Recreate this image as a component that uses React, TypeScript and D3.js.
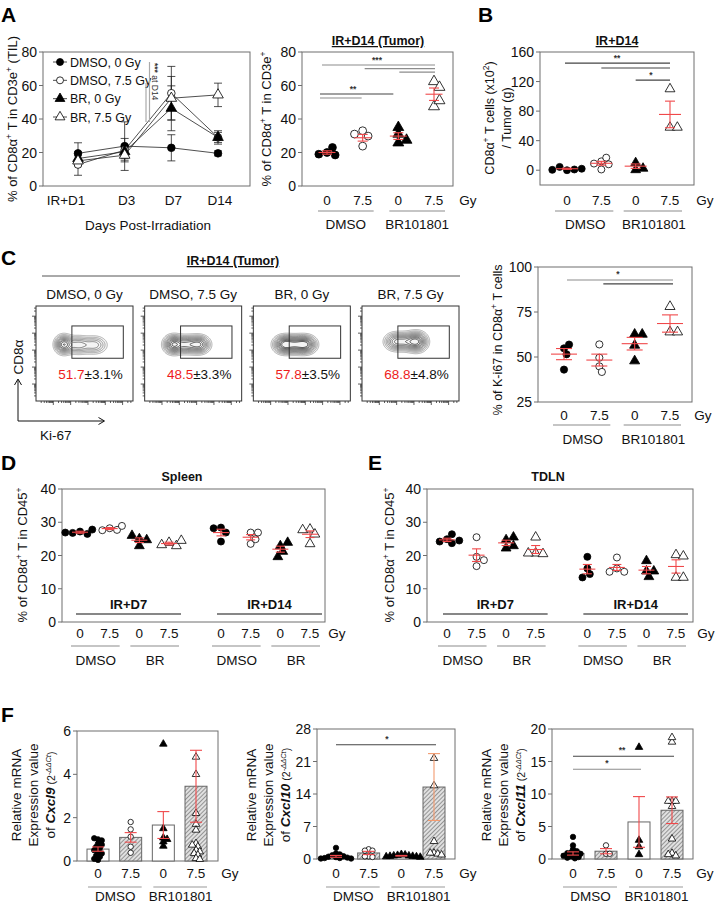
import React from "react";
import * as d3 from "d3";

const FONT = "'Liberation Sans', Arial, Helvetica, sans-serif";
const FRAME = "#6e6e6e";
const RED = "#f0484a";
const ORANGE = "#f39a6e";
const GREY = "#8c8c8c";
const DARK = "#444";
const TICK_FS = 14;
const XL_FS = 13.5;

// ---------- Panel A (left): time course ----------
const daysA = ["IR+D1", "D3", "D7", "D14"];
const tilDmso0Mean = [19.5, 23.8, 22.8, 19.5];
const tilDmso0Sem = [6.3, 14.5, 7.8, 1.5];
const tilDmso75Mean = [12.8, 21.4, 55.4, 29.0];
const tilDmso75Sem = [6.4, 7.0, 16.0, 3.0];
const tilBr0Mean = [16.4, 20.5, 46.4, 29.0];
const tilBr0Sem = [4.0, 4.0, 13.4, 4.0];
const tilBr75Mean = [15.0, 18.4, 52.4, 54.4];
const tilBr75Sem = [3.0, 3.0, 13.0, 7.0];
const legendA = ["DMSO, 0 Gy", "DMSO, 7.5 Gy", "BR, 0 Gy", "BR, 7.5 Gy"];

// ---------- common categories ----------
const gyLabels = ["0", "7.5", "0", "7.5"];
const drugLabels = ["DMSO", "BR101801"];

// ---------- Panel A (right) ----------
const tumorD14Pts = [
  [20, 18.5, 19, 23],
  [23.8, 33, 29.8, 31],
  [31, 35, 25.8, 27.4],
  [62.4, 59, 47.4, 51],
];
const tumorD14Mean = [20, 28.8, 29.8, 54.8];
const tumorD14Sem = [1.0, 2.0, 2.0, 3.7];

// ---------- Panel B ----------
const cellsD14Pts = [
  [0, 1, 4.5, 2, 0.5],
  [12, 17, 1, 8, 9],
  [10, 0.5, 2.5],
  [110, 58, 58],
];
const cellsD14Mean = [2, 9.4, 5.5, 75.5];
const cellsD14Sem = [0.8, 2.6, 3, 18];

// ---------- Panel C ----------
const flowLabels = ["DMSO, 0 Gy", "DMSO, 7.5 Gy", "BR, 0 Gy", "BR, 7.5 Gy"];
const ki67Pct = ["51.7", "48.5", "57.8", "68.8"];
const ki67PctSem = ["3.1", "3.3", "3.5", "4.8"];
// contour populations per plot: [relX, relY, sdX, sdY, weight]
const flowPops = [
  [[0.28, 0.40, 5, 5.2, 1.0], [0.43, 0.405, 7, 5, 0.6], [0.6, 0.405, 7, 5, 0.5]],
  [[0.29, 0.40, 5.5, 5.2, 1.0], [0.43, 0.40, 7, 5, 0.75], [0.56, 0.40, 6, 5, 0.85]],
  [[0.31, 0.40, 6, 5, 1.0], [0.43, 0.40, 7, 5, 0.85], [0.54, 0.40, 6, 5, 0.9]],
  [[0.33, 0.37, 6, 5, 0.6], [0.44, 0.37, 7, 5, 0.65], [0.56, 0.37, 6, 5.5, 1.0]],
];
const ki67Pts = [
  [54.8, 51.5, 56.9, 43],
  [57, 49.6, 44.8, 41.7],
  [62.6, 62.6, 56.5, 47.8],
  [78, 63.9, 63.9],
];
const ki67Mean = [51.6, 48.3, 57.4, 68.6];
const ki67Sem = [3.1, 3.3, 3.5, 4.8];

// ---------- Panels D / E ----------
const gy8 = ["0", "7.5", "0", "7.5", "0", "7.5", "0", "7.5"];
const drug4 = ["DMSO", "BR", "DMSO", "BR"];
const timeLabels = ["IR+D7", "IR+D14"];
const slotsDE = [0, 1, 2, 3, 4.75, 5.75, 6.75, 7.75];
const spleenPts = [
  [27.2, 26.5, 26.8, 27.8, 26.9],
  [28.2, 27.7, 27.6, 28.9],
  [25, 22.9, 24.7, 26],
  [23.9, 22.9, 23.2, 24.5],
  [28.4, 24.2, 26.9, 28.2],
  [26.9, 23.5, 24.9, 26.9],
  [22.9, 23.9, 21.2, 19.6],
  [27.9, 23.5, 26.4, 27.7],
];
const spleenMean = [27, 28.1, 24.6, 23.6, 26.9, 25.5, 21.9, 26.4];
const spleenSem = [0.3, 0.3, 0.7, 0.4, 1.0, 0.8, 0.9, 1.0];
const tdlnPts = [
  [24.9, 23.7, 24.2, 26.4, 24.5],
  [19.6, 25.5, 18.6, 16.8],
  [24.7, 25.5, 22.2, 22.9],
  [25.5, 20.7, 20.5, 20.7],
  [19.6, 16.1, 14.4, 13.4],
  [19.4, 16.1, 15.1, 15.1],
  [18.4, 15.3, 15.3, 13.6],
  [20.2, 19.8, 13.4, 13.4],
];
const tdlnMean = [24.7, 20.1, 23.8, 21.8, 15.9, 16.4, 15.6, 16.7];
const tdlnSem = [0.5, 1.9, 0.8, 1.2, 1.4, 0.9, 1.1, 2.0];

// ---------- Panel F ----------
const cxcl9Pts = [
  [1.0, 0.95, 1.05, 0.8, 0.75, 0.65, 0.6, 0.5, 0.4, 0.35, 0.25, 0.2, 0.1, 0.05],
  [1.8, 1.46, 1.12, 0.66, 0.38],
  [5.4, 1.5, 0.89, 0.69, 1.0, 1.07],
  [4.8, 4.0, 2.2, 1.7, 1.43, 0.81, 0.66, 0.5, 0.43, 0.35, 0.28, 0.12, 0.08, 0.74],
];
const cxcl9Mean = [0.55, 1.09, 1.66, 3.45];
const cxcl9Sem = [0.1, 0.22, 0.62, 1.66];
const cxcl10Pts = [
  [2.4, 1.2, 1.0, 0.8, 0.6, 0.5, 0.4, 0.3, 0.2, 0.2, 0.1, 0.1],
  [2.1, 1.8, 1.8, 0.57, 0.43, 0.57],
  [1.0, 0.9, 0.8, 0.7, 0.7, 0.6, 0.6, 0.5, 0.5, 0.4],
  [21.7, 15.8, 3.8, 1.3, 1.1, 1.3, 0.9],
];
const cxcl10Mean = [0.57, 1.3, 0.7, 15.5];
const cxcl10Sem = [0.2, 0.35, 0.07, 7.2];
const cxcl11Pts = [
  [3.4, 2.1, 1.5, 1.2, 1.0, 0.9, 0.8, 0.7, 0.5, 0.4, 0.3, 0.2, 0.1],
  [2.1, 0.8, 0.8],
  [17.2, 2.9, 1.9, 0.7],
  [18.0, 18.7, 8.9, 8.9, 8.9, 8.1, 3.1, 0.9, 0.5, 0.7],
];
const cxcl11Mean = [0.85, 1.2, 5.7, 7.5];
const cxcl11Sem = [0.25, 0.4, 3.9, 2.05];

type Shape = "cf" | "co" | "tf" | "to";
const SH4: Shape[] = ["cf", "co", "tf", "to"];
const SH8: Shape[] = ["cf", "co", "tf", "to", "cf", "co", "tf", "to"];

function Marker({ shape, x, y, r }: { shape: Shape; x: number; y: number; r: number }) {
  const filled = shape === "cf" || shape === "tf";
  const fill = filled ? "#000" : "#fff";
  if (shape[0] === "c")
    return <circle cx={x} cy={y} r={r} fill={fill} stroke="#000" strokeWidth={0.8} />;
  const d = d3.symbol().type(d3.symbolTriangle).size(r * r * 3.4)() as string;
  return (
    <path d={d} transform={`translate(${x},${y})`} fill={fill} stroke="#000" strokeWidth={0.8} strokeLinejoin="round" />
  );
}

function swarm(vals: number[], y: (v: number) => number, r: number, k0: number): number[] {
  const placed: { x: number; y: number }[] = [];
  const dx = new Array(vals.length).fill(0);
  const minD = r * k0;
  vals.forEach((v, i) => {
    const py = y(v);
    for (let k = 0; k < 60; k++) {
      const off = (k % 2 === 1 ? 1 : -1) * Math.ceil(k / 2) * r * 0.7;
      if (placed.every((p) => Math.hypot(p.x - off, p.y - py) >= minD)) {
        dx[i] = off;
        placed.push({ x: off, y: py });
        break;
      }
    }
  });
  return dx;
}

function Dots({ xs, y, groups, r, shapes, spread = 1.7 }: any) {
  return (
    <g>
      {groups.map((vals: number[], gi: number) => {
        const dx = swarm(vals, y, r, spread);
        return (
          <g key={gi}>
            {vals.map((v, j) => (
              <Marker key={j} shape={shapes[gi]} x={xs[gi] + dx[j]} y={y(v)} r={r} />
            ))}
          </g>
        );
      })}
    </g>
  );
}

function MeanSem({ x, y, mean, sem, meanW, capW, color = RED, sw = 1.1 }: any) {
  return (
    <g stroke={color} strokeWidth={sw}>
      {meanW > 0 && <line x1={x - meanW / 2} x2={x + meanW / 2} y1={y(mean)} y2={y(mean)} />}
      <line x1={x} x2={x} y1={y(mean - sem)} y2={y(mean + sem)} />
      <line x1={x - capW / 2} x2={x + capW / 2} y1={y(mean + sem)} y2={y(mean + sem)} />
      <line x1={x - capW / 2} x2={x + capW / 2} y1={y(mean - sem)} y2={y(mean - sem)} />
    </g>
  );
}

function Frame({ x0, x1, y0, y1 }: any) {
  return <rect x={x0} y={y0} width={x1 - x0} height={y1 - y0} fill="none" stroke={FRAME} strokeWidth={1} />;
}

function YAxis({ y, ticks, x, fs = TICK_FS }: any) {
  return (
    <g>
      {ticks.map((t: number) => (
        <g key={t}>
          <line x1={x - 4} x2={x} y1={y(t)} y2={y(t)} stroke={FRAME} />
          <text x={x - 6} y={y(t)} dy="0.36em" textAnchor="end" fontSize={fs} fill="#111">
            {t}
          </text>
        </g>
      ))}
    </g>
  );
}

function XLabels({ xs, labels, yb, gyX, fs = XL_FS }: any) {
  return (
    <g fontSize={fs} fill="#111" textAnchor="middle">
      {labels.map((l: string, i: number) => (
        <text key={i} x={xs[i]} y={yb}>
          {l}
        </text>
      ))}
      {gyX != null && (
        <text x={gyX} y={yb}>
          Gy
        </text>
      )}
    </g>
  );
}

function GroupLines({ xs, pairs, labels, yl, yb, l = 9, r = 10, color = GREY, fs = XL_FS }: any) {
  return (
    <g>
      {pairs.map((p: number[], i: number) => (
        <g key={i}>
          <line x1={xs[p[0]] - l} x2={xs[p[1]] + r} y1={yl} y2={yl} stroke={color} strokeWidth={1.2} />
          <text x={(xs[p[0]] + xs[p[1]]) / 2 + 1} y={yb} textAnchor="middle" fontSize={fs} fill="#111">
            {labels[i]}
          </text>
        </g>
      ))}
    </g>
  );
}

function SigLine({ x1, x2, y, color }: any) {
  return <line x1={x1} x2={x2} y1={y} y2={y} stroke={color} strokeWidth={1.1} />;
}

function Stars({ x, y, s }: any) {
  return (
    <text x={x} y={y} textAnchor="middle" fontSize={8.5} fill="#333" fontWeight="bold">
      {s}
    </text>
  );
}

function Sup({ t }: { t: string }) {
  return (
    <tspan fontSize={8.5} dy={-5}>
      {t}
    </tspan>
  );
}

// ---------------- Panel A left ----------------
function PanelALeft() {
  const y = d3.scaleLinear().domain([0, 80]).range([186, 52]);
  const x = d3.scalePoint<string>().domain(daysA).range([78, 218]);
  const xs = daysA.map((d) => x(d) as number);
  const series = [
    { m: tilDmso0Mean, s: tilDmso0Sem, sh: "cf" as Shape },
    { m: tilDmso75Mean, s: tilDmso75Sem, sh: "co" as Shape },
    { m: tilBr0Mean, s: tilBr0Sem, sh: "tf" as Shape },
    { m: tilBr75Mean, s: tilBr75Sem, sh: "to" as Shape },
  ];
  const line = d3
    .line<number>()
    .x((_, i) => xs[i])
    .y((v) => y(v));
  const ly = d3.scalePoint<number>().domain([0, 1, 2, 3]).range([62, 117]);
  return (
    <g>
      <Frame x0={43} x1={250} y0={52} y1={186} />
      <YAxis y={y} ticks={[0, 20, 40, 60, 80]} x={43} />
      {series.map((s, i) => (
        <path key={i} d={line(s.m) as string} fill="none" stroke="#222" strokeWidth={0.8} />
      ))}
      {series.map((s, i) => (
        <g key={i}>
          {s.m.map((v, j) => (
            <MeanSem key={j} x={xs[j]} y={y} mean={v} sem={s.s[j]} meanW={0} capW={8} color="#222" sw={0.8} />
          ))}
        </g>
      ))}
      {series.map((s, i) => (
        <g key={i}>
          {s.m.map((v, j) => (
            <Marker key={j} shape={s.sh} x={xs[j]} y={y(v)} r={3.8} />
          ))}
        </g>
      ))}
      {/* legend */}
      {legendA.map((l, i) => (
        <g key={l}>
          <line x1={53} x2={67} y1={ly(i)} y2={ly(i)} stroke="#222" strokeWidth={0.8} />
          <Marker shape={series[i].sh} x={60} y={ly(i) as number} r={3.5} />
          <text x={70} y={ly(i)} dy="0.36em" fontSize={12.5} fill="#111">
            {l}
          </text>
        </g>
      ))}
      {/* significance */}
      <line x1={146} x2={146} y1={83} y2={122} stroke="#aaa" strokeWidth={1.2} />
      <line x1={149.5} x2={149.5} y1={62} y2={122} stroke="#aaa" strokeWidth={1.2} />
      <text transform="translate(151.5,63) rotate(90)" fontSize={8.5} fill="#333">
        <tspan fontWeight="bold">***</tspan> at D14
      </text>
      <g fontSize={XL_FS} fill="#111" textAnchor="middle">
        {daysA.map((d, i) => (
          <text key={d} x={xs[i] + (i === 0 ? -12 : 2)} y={205}>
            {d}
          </text>
        ))}
        <text x={148} y={230}>
          Days Post-Irradiation
        </text>
      </g>
      <text transform="translate(17,119) rotate(-90)" textAnchor="middle" fontSize={13} fill="#111">
        % of CD8α<Sup t="+" />
        <tspan dy={5}> T in CD3e</tspan>
        <Sup t="+" />
        <tspan dy={5}> (TIL)</tspan>
      </text>
    </g>
  );
}

// ---------------- Panel A right ----------------
function PanelARight() {
  const y = d3.scaleLinear().domain([0, 80]).range([186, 52]);
  const x = d3.scalePoint<number>().domain([0, 1, 2, 3]).range([327, 434]);
  const xs = [0, 1, 2, 3].map((i) => x(i) as number);
  return (
    <g>
      <text x={378} y={45} textAnchor="middle" fontSize={12.5} fontWeight="bold" textDecoration="underline" fill="#111">
        IR+D14 (Tumor)
      </text>
      <Frame x0={302} x1={453} y0={52} y1={186} />
      <YAxis y={y} ticks={[0, 20, 40, 60, 80]} x={302} />
      <Dots xs={xs} y={y} groups={tumorD14Pts} r={3.9} shapes={SH4} />
      {tumorD14Mean.map((m, i) => (
        <MeanSem key={i} x={xs[i]} y={y} mean={m} sem={tumorD14Sem[i]} meanW={17} capW={10} />
      ))}
      <SigLine x1={xs[0] - 5} x2={xs[3] + 1} y={y(72.2)} color={GREY} />
      <SigLine x1={xs[1] + 2} x2={xs[3] + 1} y={y(70.1)} color={GREY} />
      <SigLine x1={xs[2] + 1} x2={xs[3] + 1} y={y(68)} color={GREY} />
      <Stars x={377} y={y(73.4)} s="***" />
      <SigLine x1={xs[0] - 7} x2={xs[2] - 5} y={y(54.9)} color={DARK} />
      <SigLine x1={xs[0] - 7} x2={xs[1] - 1} y={y(52.5)} color={GREY} />
      <Stars x={353} y={y(56)} s="**" />
      <XLabels xs={xs} labels={gyLabels} yb={205} gyX={468} />
      <GroupLines xs={xs} pairs={[[0, 1], [2, 3]]} labels={drugLabels} yl={211} yb={229} l={9} r={11} />
      <text transform="translate(271,119) rotate(-90)" textAnchor="middle" fontSize={13} fill="#111">
        % of CD8α<Sup t="+" />
        <tspan dy={5}> T in CD3e</tspan>
        <Sup t="+" />
      </text>
    </g>
  );
}

// ---------------- Panel B ----------------
function PanelB() {
  const y = d3.scaleLinear().domain([-20, 160]).range([185, 52]);
  const x = d3.scalePoint<number>().domain([0, 1, 2, 3]).range([567, 670]);
  const xs = [0, 1, 2, 3].map((i) => x(i) as number);
  return (
    <g>
      <text x={617} y={45} textAnchor="middle" fontSize={12.5} fontWeight="bold" textDecoration="underline" fill="#111">
        IR+D14
      </text>
      <Frame x0={540} x1={694} y0={52} y1={185} />
      <YAxis y={y} ticks={[0, 40, 80, 120, 160]} x={540} />
      <Dots xs={xs} y={y} groups={cellsD14Pts} r={3.5} shapes={SH4} />
      {cellsD14Mean.map((m, i) => (
        <MeanSem key={i} x={xs[i]} y={y} mean={m} sem={cellsD14Sem[i]} meanW={22} capW={10} />
      ))}
      <SigLine x1={xs[0] - 2} x2={xs[3]} y={y(145)} color={DARK} />
      <SigLine x1={xs[1]} x2={xs[3]} y={y(138.3)} color={DARK} />
      <SigLine x1={xs[2]} x2={xs[3]} y={y(122)} color={DARK} />
      <Stars x={617} y={y(148)} s="**" />
      <Stars x={651} y={y(125)} s="*" />
      <XLabels xs={xs} labels={gyLabels} yb={205} gyX={705} />
      <GroupLines xs={xs} pairs={[[0, 1], [2, 3]]} labels={drugLabels} yl={211} yb={229} l={12} r={12} />
      <text transform="translate(494,118) rotate(-90)" textAnchor="middle" fontSize={12.5} fill="#111">
        CD8α<Sup t="+" />
        <tspan dy={5}> T cells (x10</tspan>
        <Sup t="2" />
        <tspan dy={5}>)</tspan>
      </text>
      <text transform="translate(511,118) rotate(-90)" textAnchor="middle" fontSize={12.5} fill="#111">
        / Tumor (g)
      </text>
    </g>
  );
}

// ---------------- Panel C (flow) ----------------
function FlowBox({ bx, i }: { bx: number; i: number }) {
  const W = 97,
    H = 95,
    by = 306;
  const pops = flowPops[i];
  const values: number[] = new Array(W * H);
  for (let r = 0; r < H; r++)
    for (let c = 0; c < W; c++) {
      let v = 0;
      for (const p of pops) {
        const dx = (c - p[0] * W) / p[2];
        const dy = (r - p[1] * H) / p[3];
        v += p[4] * Math.exp(-(dx * dx + dy * dy) / 2);
      }
      values[r * W + c] = v;
    }
  const thr = [0.1, 0.17, 0.25, 0.34, 0.44, 0.55, 0.67, 0.8, 0.93, 1.06];
  const contours = d3.contours().size([W, H]).thresholds(thr)(values);
  const path = d3.geoPath();
  const col = d3.scaleLinear<string>().domain([0, thr.length - 1]).range(["#9a9a9a", "#1a1a1a"]);
  // log-style ticks
  const ticks: { f: number; major: boolean }[] = [];
  for (let d = 0; d < 6; d++)
    for (let m = 1; m <= 9; m++) {
      const f = (d + Math.log10(m)) / 5.6;
      if (f > 0.01 && f < 0.99) ticks.push({ f, major: m === 1 });
    }
  return (
    <g>
      <text x={bx + W / 2} y={299} textAnchor="middle" fontSize={13.5} fill="#111">
        {flowLabels[i]}
      </text>
      <g transform={`translate(${bx},${by})`}>
        {contours.map((c, k) => (
          <path key={k} d={path(c as any) as string} fill={k === 0 ? "#f4f4f4" : "none"} stroke={col(k)} strokeWidth={0.75} />
        ))}
      </g>
      <rect x={bx} y={by} width={W} height={H} fill="none" stroke="#333" strokeWidth={1} />
      <rect x={bx + 0.37 * W} y={by + 0.21 * H} width={0.53 * W} height={0.34 * H} fill="none" stroke="#333" strokeWidth={1} />
      {ticks.map((t, k) => (
        <g key={k} stroke="#333" strokeWidth={0.8}>
          <line x1={bx} x2={bx - (t.major ? 4 : 2)} y1={by + H - t.f * H} y2={by + H - t.f * H} />
          <line x1={bx + t.f * W} x2={bx + t.f * W} y1={by + H} y2={by + H + (t.major ? 4 : 2)} />
        </g>
      ))}
      <text x={bx + W / 2 + 6} y={379} textAnchor="middle" fontSize={13.5} fill="#111">
        <tspan fill="#ee1c1c">{ki67Pct[i]}</tspan>±{ki67PctSem[i]}%
      </text>
    </g>
  );
}

function PanelCLeft() {
  const x = d3.scalePoint<number>().domain([0, 1, 2, 3]).range([36, 362]);
  return (
    <g>
      <text x={233} y={265} textAnchor="middle" fontSize={12.5} fontWeight="bold" textDecoration="underline" fill="#111">
        IR+D14 (Tumor)
      </text>
      <line x1={42} x2={460} y1={276} y2={276} stroke="#555" strokeWidth={1} />
      {[0, 1, 2, 3].map((i) => (
        <FlowBox key={i} bx={x(i) as number} i={i} />
      ))}
      <text transform="translate(23,357) rotate(-90)" textAnchor="middle" fontSize={13.5} fill="#111">
        CD8α
      </text>
      <g stroke="#111" strokeWidth={1} fill="none">
        <path d="M18,421 L18,380 M14.5,385 L18,379 L21.5,385" />
        <path d="M18,421 L104,421 M98.5,417.5 L104.5,421 L98.5,424.5" />
      </g>
      <text x={40} y={440} fontSize={13.5} fill="#111">
        Ki-67
      </text>
    </g>
  );
}

function PanelCRight() {
  const y = d3.scaleLinear().domain([25, 100]).range([402, 267]);
  const x = d3.scalePoint<number>().domain([0, 1, 2, 3]).range([564, 670]);
  const xs = [0, 1, 2, 3].map((i) => x(i) as number);
  return (
    <g>
      <Frame x0={538} x1={692} y0={267} y1={402} />
      <YAxis y={y} ticks={[25, 50, 75, 100]} x={538} />
      <Dots xs={xs} y={y} groups={ki67Pts} r={3.6} shapes={SH4} />
      {ki67Mean.map((m, i) => (
        <MeanSem key={i} x={xs[i]} y={y} mean={m} sem={ki67Sem[i]} meanW={26} capW={16} />
      ))}
      <SigLine x1={xs[0] + 3} x2={xs[3] + 3} y={y(92.8)} color={GREY} />
      <SigLine x1={xs[1] + 4} x2={xs[3] + 3} y={y(90.6)} color={DARK} />
      <Stars x={618} y={y(94.2)} s="*" />
      <XLabels xs={xs} labels={gyLabels} yb={420} gyX={703} />
      <GroupLines xs={xs} pairs={[[0, 1], [2, 3]]} labels={drugLabels} yl={425} yb={444} l={11} r={11} />
      <text transform="translate(502,340) rotate(-90)" textAnchor="middle" fontSize={12.5} fill="#111">
        % of K-i67 in CD8α<Sup t="+" />
        <tspan dy={5}> T cells</tspan>
      </text>
    </g>
  );
}

// ---------------- Panels D / E ----------------
function PanelDE({ x0, x1, range, title, titleX, pts, mean, sem, ylx, gyX }: any) {
  const y = d3.scaleLinear().domain([0, 40]).range([622, 489]);
  const x = d3.scaleLinear().domain([0, 7.75]).range(range);
  const xs = slotsDE.map((s) => x(s));
  return (
    <g>
      <text x={titleX} y={481} textAnchor="middle" fontSize={12.5} fontWeight="bold" fill="#111">
        {title}
      </text>
      <Frame x0={x0} x1={x1} y0={489} y1={622} />
      <YAxis y={y} ticks={[0, 10, 20, 30, 40]} x={x0} />
      <Dots xs={xs} y={y} groups={pts} r={3.5} shapes={SH8} />
      {mean.map((m: number, i: number) => (
        <MeanSem key={i} x={xs[i]} y={y} mean={m} sem={sem[i]} meanW={16} capW={9} />
      ))}
      {[[0, 3], [4, 7]].map((p, i) => (
        <g key={i}>
          <line x1={xs[p[0]] - 4} x2={xs[p[1]] + 12} y1={614} y2={614} stroke="#111" strokeWidth={1.2} />
          <text x={(xs[p[0]] + xs[p[1]]) / 2 + 4} y={609} textAnchor="middle" fontSize={13} fontWeight="bold" fill="#111">
            {timeLabels[i]}
          </text>
        </g>
      ))}
      <XLabels xs={xs} labels={gy8} yb={638} gyX={gyX} />
      <GroupLines xs={xs} pairs={[[0, 1], [2, 3], [4, 5], [6, 7]]} labels={drug4} yl={646} yb={665} l={9} r={10} />
      <text transform={`translate(${ylx},555) rotate(-90)`} textAnchor="middle" fontSize={13} fill="#111">
        % of CD8α<Sup t="+" />
        <tspan dy={5}> T in CD45</tspan>
        <Sup t="+" />
      </text>
    </g>
  );
}

// ---------------- Panel F ----------------
function PanelF({ x0, x1, y0, y1, range, domain, ticks, pts, mean, sem, gene, errColor, labelX, gyX, sigs }: any) {
  const y = d3.scaleLinear().domain(domain).range([y1, y0]);
  const x = d3.scalePoint<number>().domain([0, 1, 2, 3]).range(range);
  const xs = [0, 1, 2, 3].map((i) => x(i) as number);
  const bw = 22;
  return (
    <g>
      <Frame x0={x0} x1={x1} y0={y0} y1={y1} />
      <YAxis y={y} ticks={ticks} x={x0} />
      {mean.map((m: number, i: number) => (
        <rect
          key={i}
          x={xs[i] - bw / 2}
          y={y(m)}
          width={bw}
          height={y(0) - y(m)}
          fill={i % 2 === 1 ? "url(#hatch)" : "#fff"}
          stroke="#666"
          strokeWidth={1}
        />
      ))}
      <Dots xs={xs} y={y} groups={pts} r={2.7} shapes={SH4} spread={1.25} />
      {mean.map((m: number, i: number) => (
        <MeanSem key={i} x={xs[i]} y={y} mean={m} sem={sem[i]} meanW={0} capW={12} color={i === 3 ? errColor : RED} />
      ))}
      {sigs.map((s: any, i: number) => (
        <g key={i}>
          <SigLine x1={xs[s[0]]} x2={xs[s[1]] + 2} y={y(s[2])} color={s[3]} />
          <Stars x={s[4]} y={y(s[2]) - 3} s={s[5]} />
        </g>
      ))}
      <XLabels xs={xs} labels={gyLabels} yb={878} gyX={gyX} />
      <GroupLines xs={xs} pairs={[[0, 1], [2, 3]]} labels={drugLabels} yl={887} yb={901} l={10} r={11} color="#999" />
      <g fontSize={13.5} fill="#111" textAnchor="middle">
        <text transform={`translate(${labelX},795) rotate(-90)`}>Relative mRNA</text>
        <text transform={`translate(${labelX + 17},795) rotate(-90)`}>Expression value</text>
        <text transform={`translate(${labelX + 34},795) rotate(-90)`}>
          of{" "}
          <tspan fontWeight="bold" fontStyle="italic">
            {gene}
          </tspan>
          <tspan fontSize={10.5}> (2</tspan>
          <tspan fontSize={7.5} dy={-4} fontStyle="italic">
            -ΔΔCt
          </tspan>
          <tspan fontSize={10.5} dy={4}>
            )
          </tspan>
        </text>
      </g>
    </g>
  );
}

export default function App() {
  return (
    <svg
      width={715}
      height={905}
      viewBox="0 0 715 905"
      style={{ position: "absolute", left: 0, top: 0, background: "#fff" }}
      fontFamily={FONT}
    >
      <defs>
        <pattern id="hatch" patternUnits="userSpaceOnUse" width={3} height={3} patternTransform="rotate(45)">
          <rect width={3} height={3} fill="#e0e0e0" />
          <line x1={0} y1={0} x2={0} y2={3} stroke="#606060" strokeWidth={1.2} />
        </pattern>
      </defs>
      <rect width={715} height={905} fill="#fff" />
      <g fontWeight="bold" fontSize={21} fill="#000">
        <text x={1} y={22}>A</text>
        <text x={478} y={22}>B</text>
        <text x={1} y={265}>C</text>
        <text x={1} y={470}>D</text>
        <text x={368} y={470}>E</text>
        <text x={1} y={722}>F</text>
      </g>
      <PanelALeft />
      <PanelARight />
      <PanelB />
      <PanelCLeft />
      <PanelCRight />
      <PanelDE x0={62} x1={325} range={[80, 310]} title="Spleen" titleX={182} pts={spleenPts} mean={spleenMean} sem={spleenSem} ylx={27} gyX={337} />
      <PanelDE x0={427} x1={693} range={[447, 676]} title="TDLN" titleX={548} pts={tdlnPts} mean={tdlnMean} sem={tdlnSem} ylx={394} gyX={706} />
      <PanelF
        x0={77} x1={218} y0={731} y1={861} range={[98, 196]} domain={[0, 6]} ticks={[0, 2, 4, 6]}
        pts={cxcl9Pts} mean={cxcl9Mean} sem={cxcl9Sem} gene="Cxcl9" errColor={RED} labelX={21} gyX={230} sigs={[]}
      />
      <PanelF
        x0={317} x1={455} y0={729} y1={859} range={[336, 434]} domain={[0, 28]} ticks={[0, 7, 14, 21, 28]}
        pts={cxcl10Pts} mean={cxcl10Mean} sem={cxcl10Sem} gene="Cxcl10" errColor={ORANGE} labelX={256} gyX={468}
        sigs={[[0, 3, 24.6, DARK, 387, "*"]]}
      />
      <PanelF
        x0={552} x1={693} y0={729} y1={859} range={[573, 672]} domain={[0, 20]} ticks={[0, 5, 10, 15, 20]}
        pts={cxcl11Pts} mean={cxcl11Mean} sem={cxcl11Sem} gene="Cxcl11" errColor={RED} labelX={491} gyX={705}
        sigs={[[0, 2, 13.8, GREY, 607, "*"], [0, 3, 15.8, DARK, 622, "**"]]}
      />
    </svg>
  );
}
